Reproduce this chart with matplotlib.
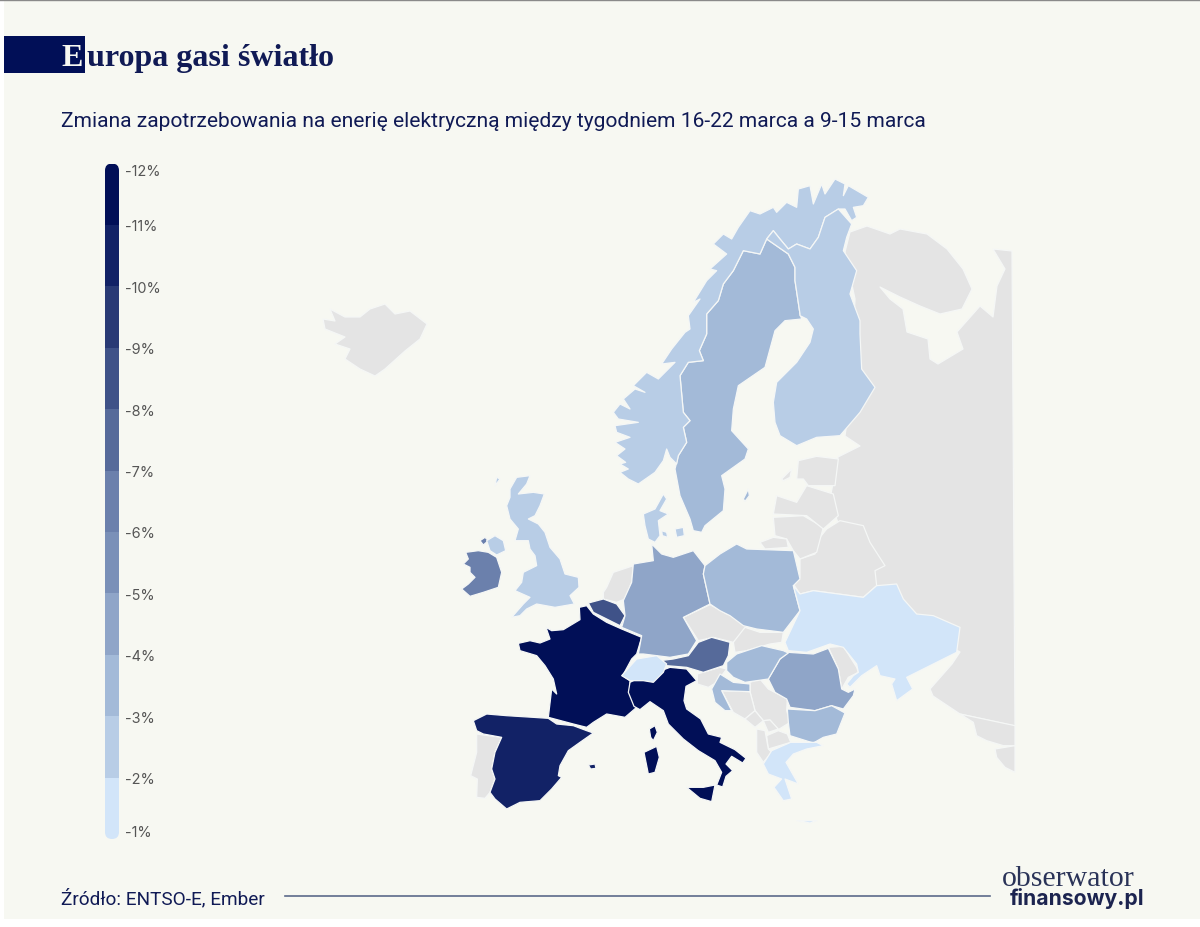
import matplotlib
matplotlib.use("Agg")
import matplotlib.pyplot as plt
from matplotlib.patches import FancyBboxPatch, Rectangle, Polygon

# ---- legend data
legend_ticks = [-12, -11, -10, -9, -8, -7, -6, -5, -4, -3, -2, -1]
legend_colors = ['#010F57', '#122266', '#293A75', '#3F5288', '#566A9A', '#6B80AC',
                 '#7A90B8', '#8FA5C8', '#A3BAD8', '#B8CDE6', '#D2E5F9']
NO_DATA = '#E4E4E4'

A = (440, 460); B = (720, 480); C = (600, 170)
N = (660, 175); S = (605, 330); U = (455, 470); I = (620, 660); K = (700, 640)


def at(origin, pts):
    return [(origin[0] + x / 3, origin[1] + y / 3) for x, y in pts]


france = [at(A, [(235,553),(270,545),(300,552),(330,540),(318,505),(335,515),(370,512),(420,482),(418,445),(440,440),(460,465),(500,490),(545,510),(605,535),(590,585),(575,600),(548,650),(570,665),(570,700),(590,745),(555,775),(500,765),(460,790),(440,805),(400,795),(325,775),(335,690),(350,705),(340,660),(315,620),(290,590),(240,575)])]
spain = [at(A, [(100,785),(140,765),(200,770),(280,775),(325,778),(350,795),(400,800),(440,815),(460,822),(420,850),(385,875),(360,920),(355,950),(365,955),(335,990),(300,1025),(240,1030),(200,1050),(165,1020),(150,1000),(165,960),(155,930),(165,880),(185,835),(130,825),(110,815)]),
         at(A, [(445,918),(465,915),(468,928),(452,930)])]
portugal = [at(A, [(110,825),(130,828),(185,835),(165,880),(155,930),(165,960),(150,1000),(135,1018),(110,1015),(112,960),(92,950),(110,880)])]
italy = [at(I, [(30,70),(60,55),(110,40),(150,25),(200,30),(230,65),(198,82),(192,125),(200,150),(242,180),(265,225),(305,235),(300,250),(345,272),(378,298),(368,312),(335,292),(318,315),(338,335),(318,352),(308,384),(290,378),(305,340),(285,305),(235,275),(190,240),(145,195),(130,155),(90,128),(60,152),(42,142),(25,100)]),
         at(I, [(200,385),(250,385),(285,378),(275,428),(240,418)]),
         at(I, [(72,280),(110,262),(118,295),(105,340),(85,345),(78,310)])]
corsica = [at(I, [(88,210),(105,200),(112,220),(100,245),(92,235)])]
great_britain = [at(U, [(165,60),(185,25),(225,20),(215,45),(190,75),(235,70),(268,75),(255,110),(240,140),(220,150),(250,165),(270,190),(285,235),(315,270),(330,315),(370,325),(372,355),(345,380),(358,405),(300,415),(245,405),(215,420),(195,440),(170,445),(205,405),(225,385),(180,365),(200,340),(205,310),(245,290),(240,260),(225,240),(220,215),(180,215),(190,180),(165,150),(155,110),(165,85)]),
                 at(U, [(95,215),(120,200),(145,215),(152,245),(125,258),(105,245)]),
                 at(U, [(125,25),(135,30),(120,50)])]
ireland = [at(U, [(32,250),(70,245),(100,250),(125,265),(140,310),(130,355),(85,370),(45,382),(20,360),(40,345),(60,325),(45,310),(45,295),(25,285),(40,270)]),
           at(U, [(75,215),(90,205),(100,215),(85,228)])]
belgium = [at(A, [(445,432),(490,420),(530,435),(555,470),(540,500),(500,480),(460,460)])]
netherlands = [at(A, [(500,385),(520,340),(580,320),(575,370),(555,420),(530,430),(490,420),(490,400)])]
luxembourg = [at(A, [(540,490),(555,480),(560,500),(550,505)])]
germany = [at(A, [(580,315),(640,305),(635,255),(665,285),(700,295),(760,275),(795,320),(790,345),(810,435),(730,475),(770,545),(745,585),(690,595),(610,585),(595,585),(605,530),(545,505),(555,470),(550,425),(575,370)])]
switzerland = [at(A, [(545,650),(590,600),(650,590),(680,615),(670,640),(640,670),(610,665),(570,665)])]
austria = [at(A, [(660,605),(700,600),(745,590),(775,550),(815,535),(870,550),(865,590),(850,620),(790,640),(740,625),(680,620)])]
denmark = [at(S, [(115,555),(150,540),(175,495),(185,510),(165,545),(190,555),(160,575),(165,620),(150,640),(130,630),(120,590)]),
           at(S, [(170,605),(185,610),(188,625),(172,620)]),
           at(S, [(210,600),(235,595),(238,620),(215,625)])]
slovenia = [at(I, [(232,45),(300,25),(320,30),(290,70),(265,85),(232,75)])]
croatia = [at(K, [(35,150),(60,105),(100,130),(150,135),(150,158),(65,155),(95,215),(75,215),(45,190)])]
czechia = [at(A, [(730,475),(810,437),(860,465),(910,465),(921,504),(880,550),(820,535),(775,545)])]
slovakia = [at(B, [(40,490),(75,445),(120,460),(190,460),(185,490),(150,495),(80,515),(45,520)])]
poland = [at(B, [(-45,260),(-50,285),(-30,375),(0,395),(30,410),(70,440),(110,450),(190,460),(240,395),(220,320),(240,300),(220,215),(80,210),(50,195),(0,225)])]
hungary = [at(K, [(80,70),(110,45),(185,20),(250,35),(265,42),(240,60),(205,120),(135,130),(100,115),(80,95)])]
romania = [at(K, [(205,120),(240,60),(265,40),(340,45),(385,28),(415,90),(425,150),(445,160),(465,150),(460,170),(430,210),(395,200),(345,215),(270,205),(260,180),(225,160)])]
moldova = [at(K, [(385,25),(430,22),(470,85),(475,100),(445,115),(425,150),(415,90)])]
ukraine = [at(B, [(195,490),(240,395),(220,320),(240,345),(280,335),(430,355),(470,320),(530,315),(550,360),(590,405),(640,410),(720,445),(710,520),(660,545),(560,595),(578,630),(530,665),(515,615),(525,600),(480,590),(470,560),(425,590),(390,625),(380,615),(400,590),(415,580),(410,555),(370,505),(330,495),(260,520),(205,515)])]
bulgaria = [at(K, [(262,210),(345,215),(395,200),(435,222),(410,285),(370,295),(340,312),(270,290),(265,250)])]
serbia = [at(K, [(150,130),(180,120),(205,150),(262,180),(260,215),(270,250),(235,272),(210,243),(190,245),(165,215),(150,158)])]
bosnia = [at(K, [(65,155),(150,158),(165,215),(135,240),(100,220)])]
montenegro = [at(K, [(135,240),(165,215),(190,245),(165,265)])]
kosovo = [at(K, [(190,245),(210,243),(235,270),(205,280)])]
macedonia = [at(K, [(200,290),(235,275),(262,285),(272,310),(205,330)])]
albania = [at(K, [(170,270),(195,275),(205,330),(215,340),(190,370),(170,340)])]
greece = [at(K, [(190,375),(215,335),(272,310),(350,310),(370,320),(320,330),(280,345),(258,370),(295,435),(255,420),(275,480),(250,485),(222,445),(245,420),(205,405)]),
          at(K, [(290,545),(350,545),(330,552)])]
belarus = [at(B, [(240,240),(285,225),(300,175),(320,150),(360,125),(430,140),(450,190),(495,260),(465,275),(470,320),(430,355),(280,335),(240,345),(220,315),(240,295)])]
lithuania = [at(B, [(160,115),(250,110),(310,145),(290,220),(240,240),(220,215),(200,180),(165,170)])]
kaliningrad = [at(B, [(120,190),(160,175),(200,180),(205,205),(135,210)])]
latvia = [at(C, [(520,1035),(530,980),(590,1000),(620,950),(700,975),(715,1040),(670,1080),(620,1040)])]
estonia = [at(C, [(595,875),(650,862),(715,870),(705,950),(625,950),(610,930),(590,930)]),
           at(C, [(545,930),(575,900),(570,925),(550,935)])]
finland = [at(N, [(320,195),(340,170),(360,195),(385,225),(410,210),(450,225),(475,190),(495,130),(535,105),(575,150),(560,190),(550,230),(590,290),(570,360),(600,440),(600,480)])
           + at(C, [(785,600),(825,655),(780,730),(720,800),(650,805),(590,830),(540,800),(525,760),(520,700),(530,640),(590,580),(630,520),(640,480),(620,450),(600,440)])
           + at(N, [(420,420),(405,320),(405,280),(385,240)])]
sweden = [at(N, [(320,195),(385,240),(405,280),(405,320),(420,420),(425,435),(375,440),(345,470)])
          + at(S, [(480,115),(400,170),(385,240),(380,305),(430,360),(420,390),(350,440),(360,480),(355,545),(300,590),(290,610),(265,605),(255,570),(225,500),(210,420),(220,380),(245,340),(235,295),(255,275),(235,250),(225,140),(250,100),(295,95),(283,65),(305,15)])
          + at(N, [(140,480),(140,420),(175,380),(190,330),(220,290),(250,230),(300,240)]),
          at(S, [(415,510),(430,480),(433,500),(420,517)])]
norway = [at(S, [(45,430),(70,420),(45,405),(62,400),(35,380),(60,360),(30,340),(75,325),(35,310),(30,290),(100,280),(40,270),(25,250),(45,225),(75,240),(55,210),(90,180),(120,190),(85,170),(125,130),(160,150),(210,100),(170,105),(200,60),(240,10)])
          + at(N, [(90,465),(85,425),(120,375),(100,385),(140,320),(170,290),(150,285),(200,240),(160,210),(190,180),(215,195),(235,160),(270,110),(300,120),(340,100),(350,115),(380,85),(410,100),(415,45),(450,35),(460,90),(485,30),(495,60),(525,15),(555,30),(550,65),(565,35),(625,70),(610,95),(580,100),(590,130),(575,140),(555,105),(535,105),(495,130),(475,190),(450,225),(410,210),(385,225),(360,195),(340,170),(320,195),(300,240),(250,230),(220,290),(190,330),(175,380),(140,420),(140,480)])
          + at(S, [(305,15),(283,65),(295,95),(250,100),(225,140),(235,250),(255,275),(235,295),(245,340),(220,380),(215,405),(195,385),(185,360),(175,395),(150,430),(100,465),(70,450)])]
russia = [[(850,233),(867,227),(890,235),(900,230),(927,235),(947,250),(963,270),(972,290),(962,310),(940,315),(920,307),(900,298),(880,288),(890,300),(903,310),(907,333),(928,340),(930,360),(938,365),(963,350),(957,333),(980,307),(993,318),(997,287),(1005,270),(993,250),(1012,252),(1015,727),(960,715),(933,697),(930,690),(952,665),(960,653),(900,620),(860,590),(830,500),(838,458),(860,447),(845,437),(850,400),(855,300),(845,253)]]
caucasus = [at(B, [(720,705),(885,740),(885,800),(850,800),(800,785),(770,770),(760,730)]),
            at(B, [(825,810),(885,800),(885,880),(855,865),(830,835)])]
iceland = [[(323,320),(335,322),(330,310),(345,318),(360,318),(370,310),(385,305),(395,315),(410,312),(427,325),(420,340),(405,352),(385,370),(375,377),(360,370),(345,360),(350,350),(335,345),(345,338),(325,330)]]

# ---- which outline carries which value (percent change)
valued = [(france, -11.5), (italy, -11.5), (corsica, -11.5), (spain, -10.5), (belgium, -8.5),
          (austria, -7.5), (ireland, -6.5), (germany, -4.5), (romania, -4.5), (poland, -3.5),
          (sweden, -3.5), (bulgaria, -3.5), (hungary, -3.5), (croatia, -3.5),
          (great_britain, -2.5), (norway, -2.5), (finland, -2.5), (denmark, -2.5),
          (ukraine, -1.5), (greece, -1.5), (switzerland, -1.5)]
no_data = [russia, caucasus, iceland, portugal, netherlands, luxembourg, slovenia, czechia, slovakia,
           moldova, serbia, bosnia, montenegro, kosovo, macedonia, albania, belarus, lithuania,
           kaliningrad, latvia, estonia]

NAVY = '#101A55'
BG = '#F7F8F2'
fig = plt.figure(figsize=(12, 9.28), dpi=100, facecolor='white')
ax = fig.add_axes([0, 0, 1, 1])
ax.set_xlim(0, 1200); ax.set_ylim(928, 0); ax.axis('off')
ax.add_patch(Rectangle((4, 2), 1196, 918, fc=BG, ec='none', zorder=0))
ax.plot([0, 1200], [1, 1], color='#8a8a8a', lw=1, zorder=1)


def color_for(v):
    for lo, c in zip(legend_ticks, legend_colors):
        if lo <= v < lo + 1:
            return c
    return NO_DATA


def draw(shape, color):
    for ring in shape:
        ax.add_patch(Polygon(ring, closed=True, fc=color, ec='#F5F7F6', lw=0.9, joinstyle='round', zorder=2))


for s in no_data:
    draw(s, NO_DATA)
for s, v in valued:
    draw(s, color_for(v))

# ---- title block
ax.add_patch(Rectangle((4, 37), 81, 37, fc='#010F57', ec='none', zorder=3))
ax.text(61, 66, 'E', color='#F7F8F2', family='Liberation Serif', weight='bold', fontsize=23, va='baseline', zorder=4)
ax.text(87, 66, 'uropa gasi światło', color=NAVY, family='Liberation Serif', weight='bold', fontsize=23, va='baseline', zorder=4)
ax.text(61, 127, 'Zmiana zapotrzebowania na enerię elektryczną między tygodniem 16-22 marca a 9-15 marca',
        color=NAVY, family='Roboto', fontsize=15.15, va='baseline', zorder=4)

# ---- legend, an axis of its own
lax = fig.add_axes([105 / 1200, 1 - 840 / 928, 14 / 1200, 675.5 / 928])
lax.set_xlim(0, 1); lax.set_ylim(-1, -12)
lax.patch.set_alpha(0)
for s in lax.spines.values():
    s.set_visible(False)
clip = FancyBboxPatch((105, 164.5), 14, 675.5, boxstyle='round,pad=0,rounding_size=7', transform=ax.transData)
for lo, c in zip(legend_ticks, legend_colors):
    b = lax.barh(lo + 0.5, 1, height=1, left=0, color=c, edgecolor='none')
    b[0].set_clip_path(clip)
lax.set_xticks([])
lax.yaxis.tick_right()
lax.set_yticks(legend_ticks)
lax.set_yticklabels([f'{t}%' for t in legend_ticks], family='Inter', fontsize=10.4, color='#555555')
lax.tick_params(axis='y', length=0, pad=4.3)
for t, lab in zip(legend_ticks, lax.get_yticklabels()):
    if t == -12:
        lab.set_va('top')
    elif t == -1:
        lab.set_va('bottom')

# ---- footer
ax.text(61, 904, 'Źródło: ENTSO-E, Ember', color=NAVY, family='Roboto', fontsize=13.65, va='baseline', zorder=4)
ax.plot([285, 990], [897, 897], color='#5C6A8A', lw=1.2, zorder=3)
ax.text(1002, 886, 'obserwator', color='#2A3358', family='Liberation Serif', fontsize=21.5, va='baseline', zorder=4)
ax.text(1010, 905, 'finansowy.pl', color='#1C2450', family='Inter', weight='bold', fontsize=15.2, va='baseline', zorder=5)

fig.savefig('out.png', dpi=100, facecolor='white')
